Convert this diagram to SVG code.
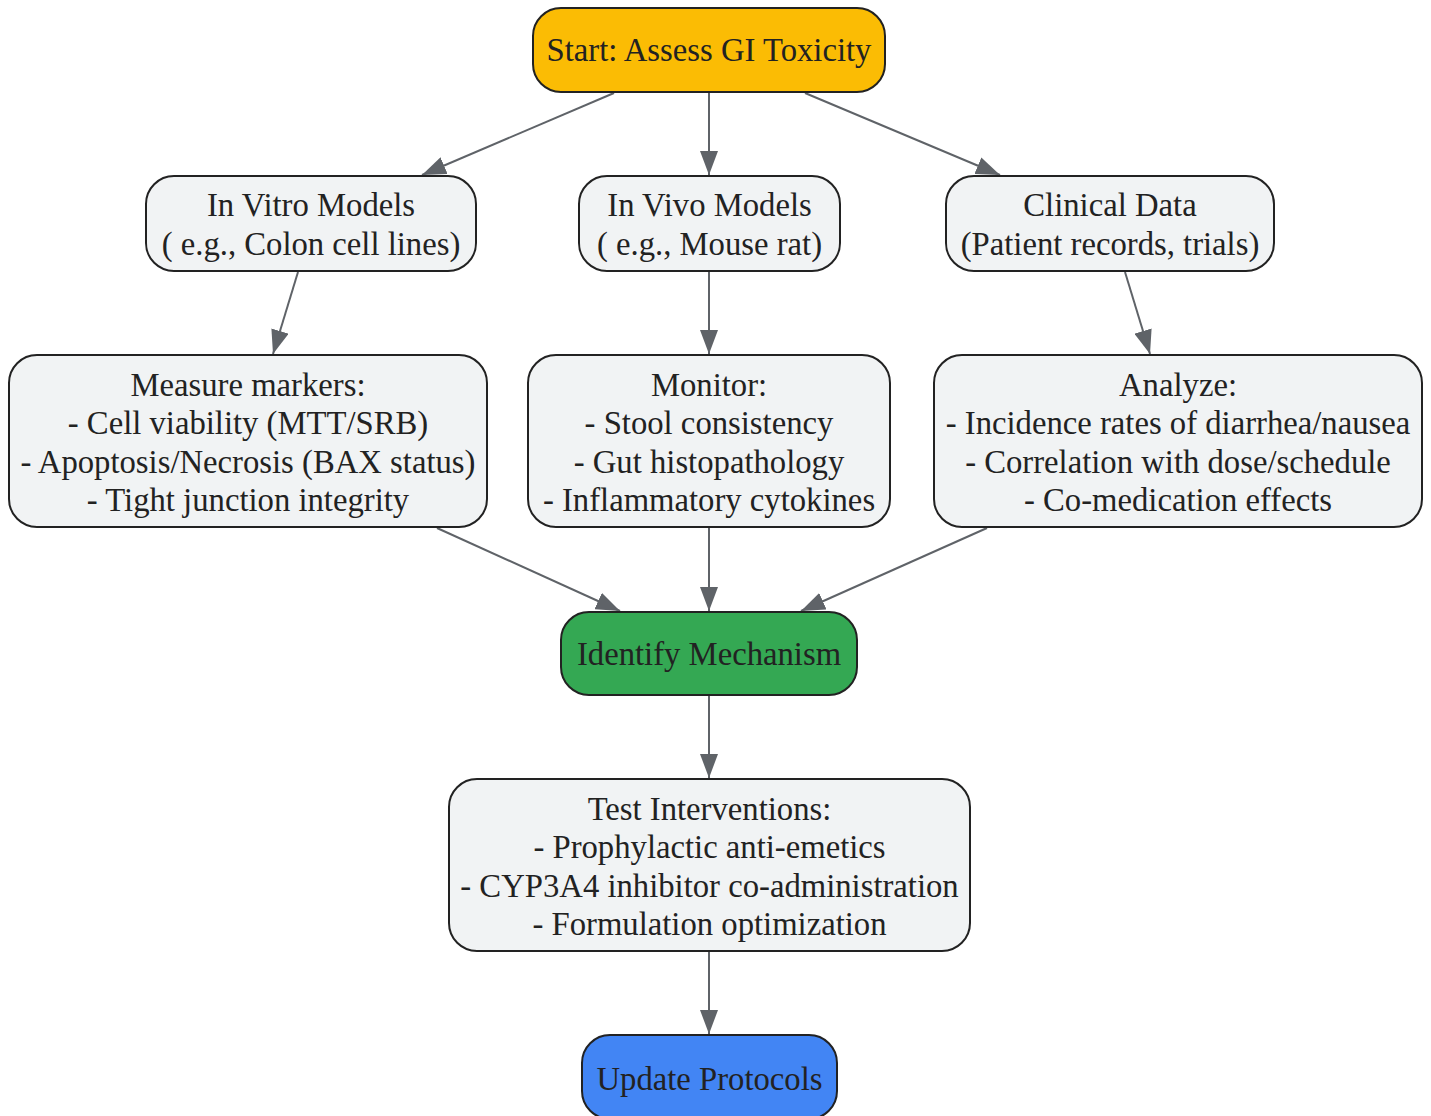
<svg xmlns="http://www.w3.org/2000/svg" width="1431" height="1116" viewBox="0 0 1431 1116">
<defs>
<marker id="arr" viewBox="0 0 24 18" refX="24" refY="9" markerWidth="24" markerHeight="18" markerUnits="userSpaceOnUse" orient="auto">
<path d="M0,0 L24,9 L0,18 z" fill="#5f6368"/>
</marker>
<style>
.n{stroke:#222;stroke-width:2}
.g{fill:#f1f3f4}
.t{font-family:"Liberation Serif","Times New Roman",serif;font-size:32.7px;fill:#222;text-anchor:middle}
.e{stroke:#5f6368;stroke-width:2;fill:none;marker-end:url(#arr)}
</style>
</defs>
<rect width="1431" height="1116" fill="#fff"/>
<g id="edges">
<line class="e" x1="614" y1="93" x2="422" y2="175"/>
<line class="e" x1="709" y1="93" x2="709" y2="175"/>
<line class="e" x1="805" y1="93" x2="1000" y2="175"/>
<line class="e" x1="298" y1="272" x2="273" y2="354"/>
<line class="e" x1="709" y1="272" x2="709" y2="354"/>
<line class="e" x1="1125" y1="272" x2="1150" y2="354"/>
<line class="e" x1="437" y1="528" x2="620" y2="611"/>
<line class="e" x1="709" y1="528" x2="709" y2="611"/>
<line class="e" x1="987" y1="528" x2="801" y2="611"/>
<line class="e" x1="709" y1="696" x2="709" y2="778"/>
<line class="e" x1="709" y1="952" x2="709" y2="1034"/>
</g>
<g id="start">
<rect class="n" x="533" y="8" width="352" height="84" rx="28" fill="#fbbc04"/>
<text class="t" x="709" y="61">Start: Assess GI Toxicity</text>
</g>
<g id="invitro">
<rect class="n g" x="146" y="176" width="330" height="95" rx="28"/>
<text class="t" x="311" y="216">In Vitro Models</text>
<text class="t" x="311" y="255">( e.g., Colon cell lines)</text>
</g>
<g id="invivo">
<rect class="n g" x="579" y="176" width="261" height="95" rx="28"/>
<text class="t" x="709.5" y="216">In Vivo Models</text>
<text class="t" x="709.5" y="255">( e.g., Mouse rat)</text>
</g>
<g id="clinical">
<rect class="n g" x="946" y="176" width="328" height="95" rx="28"/>
<text class="t" x="1110" y="216">Clinical Data</text>
<text class="t" x="1110" y="255">(Patient records, trials)</text>
</g>
<g id="measure">
<rect class="n g" x="9" y="355" width="478" height="172" rx="28"/>
<text class="t" x="248" y="396">Measure markers:</text>
<text class="t" x="248" y="434">- Cell viability (MTT/SRB)</text>
<text class="t" x="248" y="473">- Apoptosis/Necrosis (BAX status)</text>
<text class="t" x="248" y="511">- Tight junction integrity</text>
</g>
<g id="monitor">
<rect class="n g" x="528" y="355" width="362" height="172" rx="28"/>
<text class="t" x="709" y="396">Monitor:</text>
<text class="t" x="709" y="434">- Stool consistency</text>
<text class="t" x="709" y="473">- Gut histopathology</text>
<text class="t" x="709" y="511">- Inflammatory cytokines</text>
</g>
<g id="analyze">
<rect class="n g" x="934" y="355" width="488" height="172" rx="28"/>
<text class="t" x="1178" y="396">Analyze:</text>
<text class="t" x="1178" y="434">- Incidence rates of diarrhea/nausea</text>
<text class="t" x="1178" y="473">- Correlation with dose/schedule</text>
<text class="t" x="1178" y="511">- Co-medication effects</text>
</g>
<g id="identify">
<rect class="n" x="561" y="612" width="296" height="83" rx="28" fill="#34a853"/>
<text class="t" x="709" y="665">Identify Mechanism</text>
</g>
<g id="test">
<rect class="n g" x="449" y="779" width="521" height="172" rx="28"/>
<text class="t" x="709.5" y="820">Test Interventions:</text>
<text class="t" x="709.5" y="858">- Prophylactic anti-emetics</text>
<text class="t" x="709.5" y="897">- CYP3A4 inhibitor co-administration</text>
<text class="t" x="709.5" y="935">- Formulation optimization</text>
</g>
<g id="update">
<rect class="n" x="582" y="1035" width="255" height="84" rx="28" fill="#4285f4"/>
<text class="t" x="709.5" y="1090">Update Protocols</text>
</g>
</svg>
